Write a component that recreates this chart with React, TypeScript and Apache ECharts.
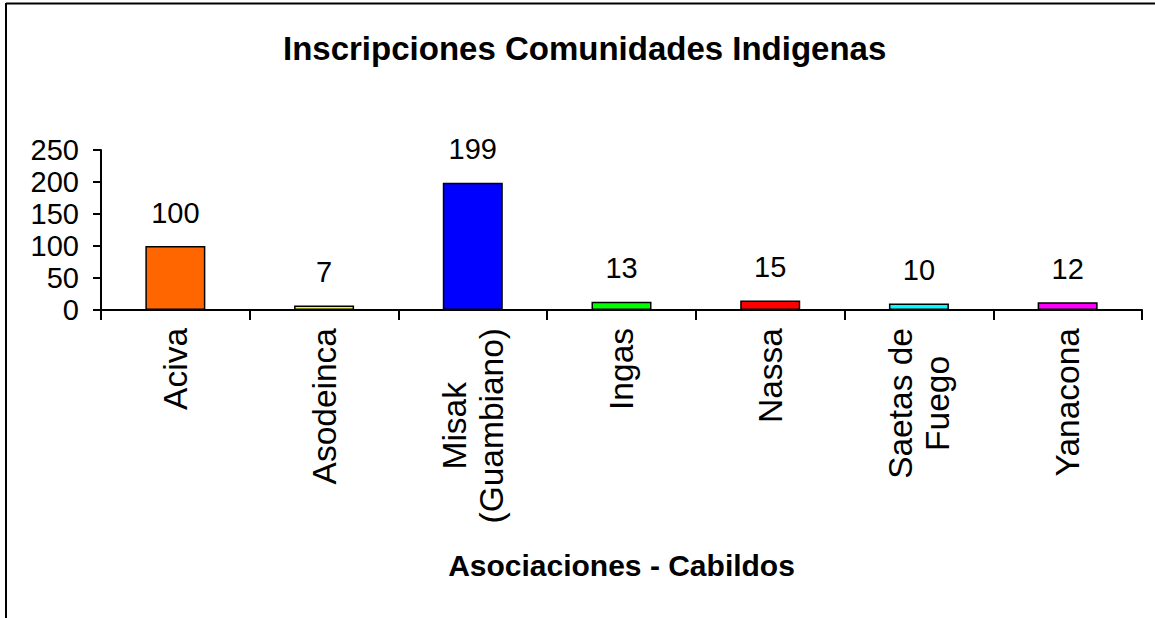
import React, { useEffect, useRef } from "react";
import * as echarts from "echarts";

const categories = ["Aciva", "Asodeinca", "Misak\n(Guambiano)", "Ingas", "Nassa", "Saetas de\nFuego", "Yanacona"];
const values = [100, 7, 199, 13, 15, 10, 12];
const barColors = ["#FF6600", "#FFFF00", "#0000FF", "#00FF00", "#FF0000", "#00FFFF", "#FF00FF"];
const titleText = "Inscripciones Comunidades Indigenas";
const xAxisName = "Asociaciones - Cabildos";

const FONT = "'Liberation Sans', Arial, Helvetica, sans-serif";

export default function App() {
  const ref = useRef<HTMLDivElement>(null);
  useEffect(() => {
    if (!ref.current) return;
    document.body.style.margin = "0";
    const chart = echarts.init(ref.current, undefined, { renderer: "svg" });
    chart.setOption({
      animation: false,
      backgroundColor: "#ffffff",
      textStyle: { fontFamily: FONT, color: "#000" },
      title: {
        text: titleText,
        left: 283,
        top: 32,
        padding: 0,
        textStyle: { fontFamily: FONT, fontSize: 33, fontWeight: "bold", color: "#000" },
      },
      graphic: [
        { type: "line", shape: { x1: 6, y1: 3.5, x2: 1155, y2: 3.5 }, style: { stroke: "#000", lineWidth: 2 } },
        { type: "line", shape: { x1: 6, y1: 3, x2: 6, y2: 618 }, style: { stroke: "#000", lineWidth: 2 } },
      ],
      grid: { left: 101, right: 13, top: 150, bottom: 308, containLabel: false },
      xAxis: {
        type: "category",
        data: categories,
        name: xAxisName,
        nameLocation: "middle",
        nameGap: 240,
        nameTextStyle: { fontFamily: FONT, fontSize: 30, fontWeight: "bold", color: "#000", verticalAlign: "top" },
        axisLine: { lineStyle: { color: "#000", width: 2 } },
        axisTick: { show: true, length: 10, lineStyle: { color: "#000", width: 2 }, alignWithLabel: false },
        axisLabel: {
          interval: 0,
          rotate: 90,
          margin: 18,
          fontFamily: FONT,
          fontSize: 33.5,
          color: "#000",
          lineHeight: 37,
          formatter: (v: string) => v.split("\n").map((l) => `{c|${l}}`).join("\n"),
          rich: { c: { align: "center", fontFamily: FONT, fontSize: 33.5, lineHeight: 37, color: "#000" } },
        },
      },
      yAxis: {
        type: "value",
        min: 0,
        max: 250,
        interval: 50,
        splitLine: { show: false },
        axisLine: { show: true, lineStyle: { color: "#000", width: 2 } },
        axisTick: { show: true, length: 8, lineStyle: { color: "#000", width: 2 } },
        axisLabel: { margin: 22, fontFamily: FONT, fontSize: 29, color: "#000" },
      },
      series: [
        {
          type: "bar",
          data: values.map((v, i) => ({ value: v, itemStyle: { color: barColors[i] } })),
          barWidth: 60,
          itemStyle: { borderColor: "#000", borderWidth: 1.5 },
          label: { show: true, position: "top", distance: 19, fontFamily: FONT, fontSize: 29, color: "#000" },
        },
      ],
    });
    return () => chart.dispose();
  }, []);
  return <div ref={ref} style={{ position: "absolute", left: 0, top: 0, width: 1155, height: 618 }} />;
}
